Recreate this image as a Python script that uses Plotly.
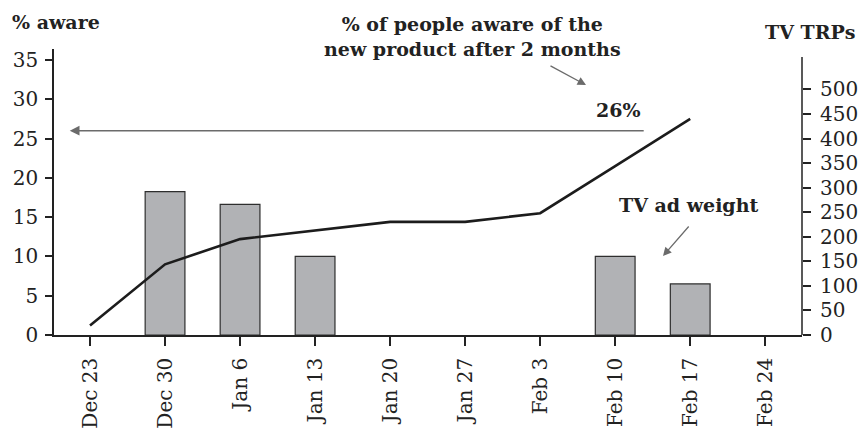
import plotly.graph_objects as go

# Weekly data
weeks = ["Dec 23", "Dec 30", "Jan 6", "Jan 13", "Jan 20", "Jan 27",
         "Feb 3", "Feb 10", "Feb 17", "Feb 24"]
tv_trps = [0, 292, 266, 160, 0, 0, 0, 160, 104, 0]
aware_weeks = weeks[:9]
aware_pct = [1.2, 9.0, 12.2, 13.3, 14.4, 14.4, 15.5, 21.5, 27.5]
final_aware = 26

FONT = "DejaVu Serif"
AX_TOP = 36.4           # left axis upper bound (% aware)
TRP_PER_PCT = 16        # right axis scale relative to left
TRP_AXIS_END = 566

fig = go.Figure()

# TRP bars on the primary (right-hand) axis so the awareness line sits on top
fig.add_trace(go.Bar(
    x=weeks, y=tv_trps, yaxis="y", width=0.53,
    marker=dict(color="#b1b2b5",
                line=dict(color="#2e2e2e",
                          width=[1.2 if v > 0 else 0 for v in tv_trps])),
    showlegend=False, hoverinfo="skip",
))

fig.add_trace(go.Scatter(
    x=aware_weeks, y=aware_pct, yaxis="y2", mode="lines",
    line=dict(color="#1c1c1c", width=2.6),
    showlegend=False, hoverinfo="skip",
))

tick_font = dict(family=FONT, size=20, color="#222")

fig.update_layout(
    width=861, height=428,
    margin=dict(l=54, r=59, t=49, b=93),
    plot_bgcolor="white", paper_bgcolor="white",
    xaxis=dict(
        type="category", range=[-0.48, 9.49], automargin=False,
        showline=True, linecolor="#222", linewidth=1.5,
        ticks="outside", ticklen=9, tickwidth=1.5, tickcolor="#222",
        tickangle=-90, tickfont=tick_font, showgrid=False,
        ticklabelstandoff=4,
    ),
    yaxis=dict(
        side="right", automargin=False,
        range=[0, AX_TOP * TRP_PER_PCT],
        tickvals=[0, 50, 100, 150, 200, 250, 300, 350, 400, 450, 500],
        showline=False,
        ticks="outside", ticklen=8, tickwidth=1.5, tickcolor="#222",
        tickfont=tick_font, showgrid=False, zeroline=False,
        ticklabelstandoff=5,
    ),
    yaxis2=dict(
        overlaying="y", side="left", automargin=False,
        range=[0, AX_TOP], tickvals=[0, 5, 10, 15, 20, 25, 30, 35],
        showline=True, linecolor="#222", linewidth=1.5,
        ticks="outside", ticklen=7, tickwidth=1.5, tickcolor="#222",
        tickfont=tick_font, showgrid=False, zeroline=False,
        ticklabelstandoff=3,
    ),
)

# Right axis spine stops a little below the top of the plot
fig.add_shape(type="line", xref="paper", yref="y",
              x0=1, x1=1, y0=0, y1=TRP_AXIS_END,
              line=dict(color="#222", width=1.5))

bold = dict(family=FONT, size=19, color="#222")
gray = "#6b6b6b"

# Axis titles
fig.add_annotation(text="<b>% aware</b>", xref="paper", yref="paper",
                   x=-0.059, y=1.094, xanchor="left", yanchor="middle",
                   showarrow=False, font=bold)
fig.add_annotation(text="<b>TV TRPs</b>", xref="paper", yref="paper",
                   x=1.011, y=1.059, xanchor="center", yanchor="middle",
                   showarrow=False, font=bold)

# Awareness callout
fig.add_annotation(text="<b>% of people aware of the<br>new product after 2 months</b>",
                   xref="paper", yref="paper", x=0.559, y=1.042,
                   xanchor="center", yanchor="middle", align="center",
                   showarrow=False, font=bold)
fig.add_annotation(xref="paper", yref="paper", axref="pixel", ayref="pixel",
                   x=(586 - 54) / 748, y=(335 - 85) / 286, ax=-37, ay=-20,
                   showarrow=True, arrowhead=2, arrowsize=1.3, arrowwidth=1.3,
                   arrowcolor=gray, text="")
fig.add_annotation(text=f"<b>{final_aware}%</b>", xref="x", yref="y2",
                   x=7.04, y=final_aware + 2.6, xanchor="center", yanchor="middle",
                   showarrow=False, font=bold)
fig.add_annotation(xref="x", yref="y2", axref="x", ayref="y2",
                   x=-0.27, y=final_aware, ax=7.4, ay=final_aware,
                   showarrow=True, arrowhead=2, arrowsize=1.3, arrowwidth=1.5,
                   arrowcolor=gray, text="")

# Ad weight callout
fig.add_annotation(text="<b>TV ad weight</b>", xref="paper", yref="paper",
                   x=(688 - 54) / 748, y=(335 - 205) / 286,
                   xanchor="center", yanchor="middle",
                   showarrow=False, font=bold)
fig.add_annotation(xref="paper", yref="paper", axref="pixel", ayref="pixel",
                   x=(663 - 54) / 748, y=(335 - 256) / 286, ax=27, ay=-31,
                   showarrow=True, arrowhead=2, arrowsize=1.3, arrowwidth=1.3,
                   arrowcolor=gray, text="")

fig.write_html("out.html")
